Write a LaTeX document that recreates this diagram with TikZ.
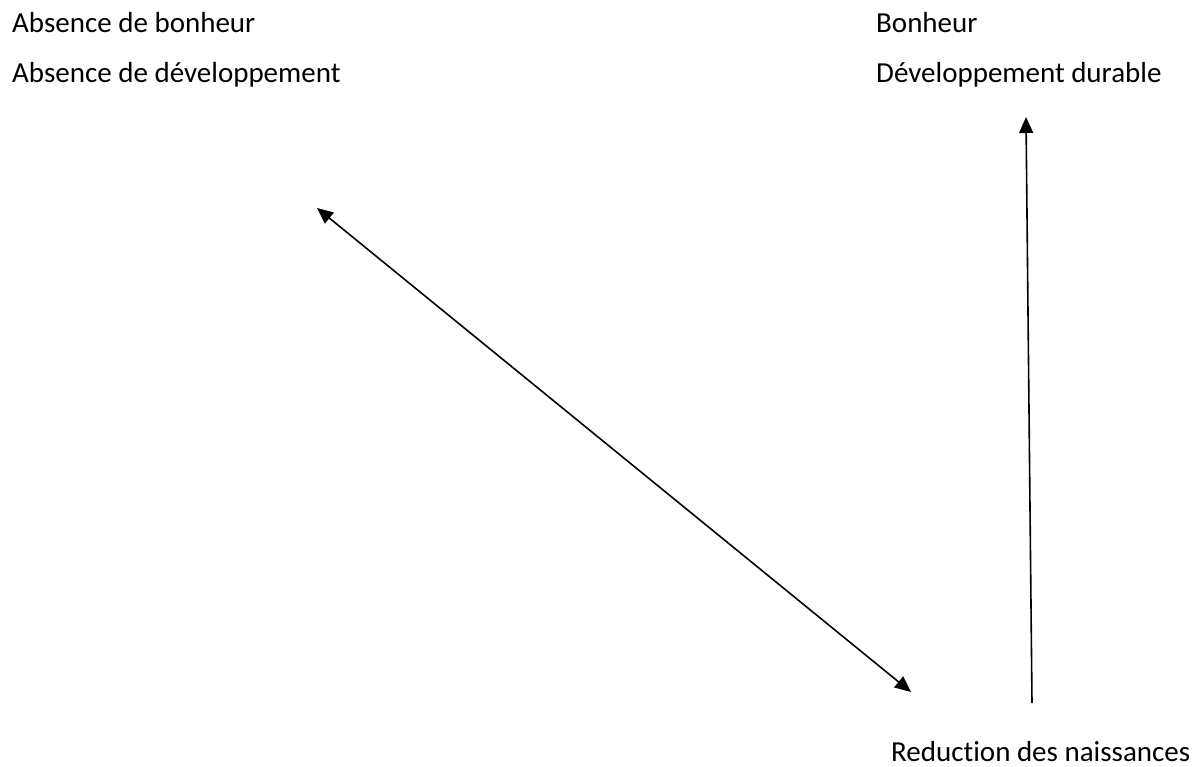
\documentclass[tikz,border=0pt]{standalone}
\usepackage{fontspec}
\setmainfont{Carlito}[Ligatures=NoCommon]
\usetikzlibrary{arrows.meta}
\begin{document}
\begin{tikzpicture}[x=1pt, y=-1pt,
    texte/.style={anchor=base west, inner sep=0pt, font=\fontsize{29}{35}\selectfont},
    fleche/.style={line width=1.6pt, -{Triangle[length=16pt, width=14pt]}},
    doublefleche/.style={line width=1.6pt, {Triangle[length=16pt, width=14pt]}-{Triangle[length=16pt, width=14pt]}}]

        \useasboundingbox (0,0) rectangle (1199,767);

        % Cote gauche
        \node[texte] (absbonheur) at (12,33) {Absence de bonheur};
        \node[texte] (absdev) at (12,83) {Absence de développement};

        % Cote droit
        \node[texte] (bonheur) at (876,33) {Bonheur};
        \node[texte] (devdurable) at (876,83) {Développement durable};

        % Naissances
        \node[texte] (naissances) at (891,761) {Reduction des naissances};

        % Fleche double
        \coordinate (diaghaut) at (317,208);
        \coordinate (diagbas) at (911,692);
        \draw[doublefleche] (diaghaut) -- (diagbas);

        % Fleche verticale
        \coordinate (vertbas) at (1032,703);
        \coordinate (verthaut) at (1026,117);
        \draw[fleche] (vertbas) -- (verthaut);

\end{tikzpicture}
\end{document}
